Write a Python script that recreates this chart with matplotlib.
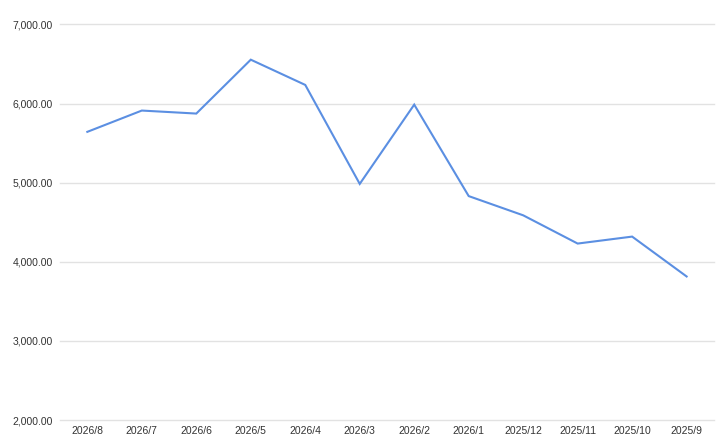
import matplotlib
matplotlib.use("Agg")
import matplotlib.pyplot as plt
from matplotlib.ticker import FuncFormatter

months = ["2026/8", "2026/7", "2026/6", "2026/5", "2026/4", "2026/3",
          "2026/2", "2026/1", "2025/12", "2025/11", "2025/10", "2025/9"]
values = [5643, 5912, 5874, 6555, 6236, 4985, 5987, 4831, 4588, 4231, 4319, 3815]
y_ticks = [2000, 3000, 4000, 5000, 6000, 7000]

plt.rcParams['font.family'] = ['Liberation Sans', 'DejaVu Sans']

fig = plt.figure(figsize=(7.24, 4.45), dpi=100)
ax = fig.add_axes([0.083, 0.056, 0.903, 0.889])

x = range(len(months))
ax.plot(x, values, color='#5b8fe2', linewidth=1.5, solid_joinstyle='miter')

ax.set_xlim(-0.5, len(months) - 0.5)
ax.set_ylim(2000, 7000)
ax.set_xticks(list(x))
ax.set_xticklabels(months)
ax.set_yticks(y_ticks)
ax.yaxis.set_major_formatter(FuncFormatter(lambda v, p: f"{v:,.2f}"))

ax.grid(axis='y', color='#e2e2e2', linewidth=1)
for gl in ax.get_ygridlines():
    gl.set_clip_on(False)
ax.set_axisbelow(True)
for s in ax.spines.values():
    s.set_visible(False)
ax.tick_params(axis='both', length=0, labelsize=7.5, colors='#333333')
ax.tick_params(axis='y', pad=5)
ax.tick_params(axis='x', pad=4)

fig.savefig("out.png", dpi=100)
